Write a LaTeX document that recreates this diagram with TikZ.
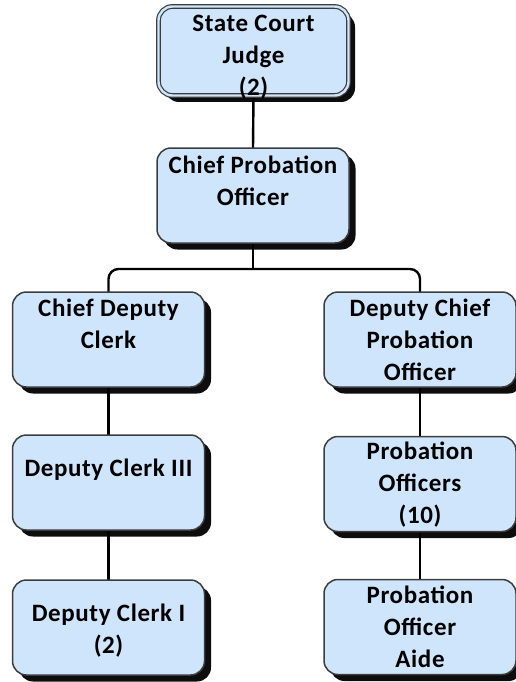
\documentclass[tikz,border=0pt]{standalone}
\usepackage{fontspec}
\setmainfont[LetterSpace=2.5]{Carlito}
\usetikzlibrary{shadows,backgrounds}
\definecolor{boxfill}{HTML}{CFE5FB}
\definecolor{boxline}{HTML}{3C3C3C}
\tikzset{
  orgbox/.style={rounded corners=14pt, draw=boxline, line width=1.5pt,
    fill=boxfill, minimum width=192pt,
    minimum height=95pt, inner sep=0pt, outer sep=0pt,
    drop shadow={shadow xshift=6.5pt, shadow yshift=-6.5pt, fill=black, opacity=0.95}},
  headbox/.style={orgbox, double=boxfill, double distance=2.4pt, line width=1.2pt,
    minimum width=190pt, minimum height=89pt},
  label/.style={anchor=base, align=center, inner sep=0pt,
    font=\fontsize{25}{32}\selectfont\bfseries},
  link/.style={line width=2.4pt, black, rounded corners=10pt}
}
\begin{document}
\begin{tikzpicture}[x=1pt, y=-1pt]
\useasboundingbox (0,0) rectangle (516,682);
% boxes
\node[headbox] (judge) at (253.5,51) {};
\node[orgbox] (cpo) at (253,195.5) {};
\node[orgbox] (cdc) at (108.5,339.5) {};
\node[orgbox] (dc3) at (108.5,482.5) {};
\node[orgbox] (dc1) at (108.5,627.5) {};
\node[orgbox] (dcpo) at (420,339.5) {};
\node[orgbox] (po) at (420,484) {};
\node[orgbox] (poa) at (420,627) {};
% titles (anchored on the baseline of their last line)
\node[label, yshift=-89pt] (tjudge) at (judge.north) {State Court\\Judge\\(2)};
\node[label, yshift=-57pt] (tcpo) at (cpo.north) {Chief Probation\\Officer};
\node[label, yshift=-56pt] (tcdc) at (cdc.north) {Chief Deputy\\Clerk};
\node[label, yshift=-41pt] (tdc3) at (dc3.north) {Deputy Clerk III};
\node[label, yshift=-73pt] (tdc1) at (dc1.north) {Deputy Clerk I\\(2)};
\node[label, yshift=-88pt] (tdcpo) at (dcpo.north) {Deputy Chief\\Probation\\Officer};
\node[label, yshift=-87pt] (tpo) at (po.north) {Probation\\Officers\\(10)};
\node[label, yshift=-88pt] (tpoa) at (poa.north) {Probation\\Officer\\Aide};
% connectors
\coordinate (bus) at (253,269);
\begin{scope}[on background layer]
\draw[link] (judge.south) -- (cpo.north);
\draw[link] (cpo.south) -- (bus);
\draw[link] (cdc.north) |- (bus) -| (dcpo.north);
\draw[link] (cdc.south) -- (dc3.north);
\draw[link] (dc3.south) -- (dc1.north);
\draw[link] (dcpo.south) -- (po.north);
\draw[link] (po.south) -- (poa.north);
\end{scope}
\end{tikzpicture}
\end{document}
